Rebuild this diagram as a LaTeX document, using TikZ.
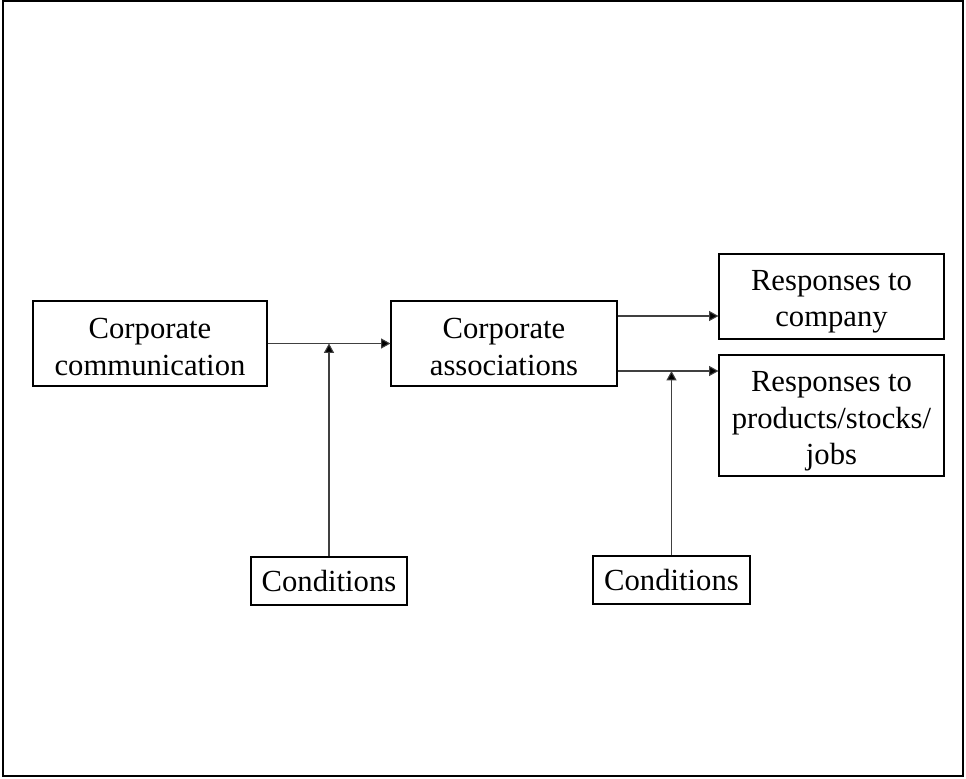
\documentclass[tikz,border=0pt]{standalone}
\usepackage{fontspec}
\setmainfont{Liberation Serif}
\usetikzlibrary{arrows.meta}
% invisible strut that lowers a centred text block a little
\newcommand{\topstrut}[1]{\rule{0pt}{#1}}
\begin{document}
\begin{tikzpicture}[x=0.75pt,y=-0.75pt,
  box/.style={draw=black, line width=0.85pt, align=center, inner sep=0pt,
    font=\fontsize{23}{27.5}\selectfont},
  flow/.style={draw=black!75, line width=0.8pt,
    -{Triangle[length=7pt,width=7.5pt,fill=black]}}]
  % canvas and outer frame
  \useasboundingbox (0,0) rectangle (966,778);
  \draw[line width=1.6pt] (3,1) rectangle (963,776);

  % boxes
  \node[box, minimum width=175.5pt, minimum height=63.75pt] (comm) at (150,343.5)
    {\topstrut{20pt}Corporate\\communication};
  \node[box, minimum width=169.5pt, minimum height=63.75pt] (assoc) at (504,343.5)
    {\topstrut{20pt}Corporate\\associations};
  \node[box, minimum width=168.75pt, minimum height=63.75pt] (company) at (831.5,296.5)
    {\topstrut{23pt}Responses to\\company};
  \node[box, minimum width=168.75pt, minimum height=90.75pt] (products) at (831.5,415.5)
    {\topstrut{24pt}Responses to\\products/stocks/\\jobs};
  \node[box, minimum width=117pt, minimum height=36pt] (cond1) at (329,581)
    {Conditions};
  \node[box, minimum width=117.75pt, minimum height=36pt] (cond2) at (671.5,580)
    {Conditions};

  % levels of the outgoing arrows from the associations box
  \coordinate (upper) at (0,316);
  \coordinate (lower) at (0,371);

  % main flow
  \draw[flow] (comm.east) -- (assoc.west);
  \draw[flow] (assoc.east |- upper) -- (company.west |- upper);
  \draw[flow] (assoc.east |- lower) -- (products.west |- lower);

  % moderating conditions
  \draw[flow] (cond1.north) -- (cond1.north |- comm.east);
  \draw[flow] (cond2.north) -- (cond2.north |- lower);
\end{tikzpicture}
\end{document}
